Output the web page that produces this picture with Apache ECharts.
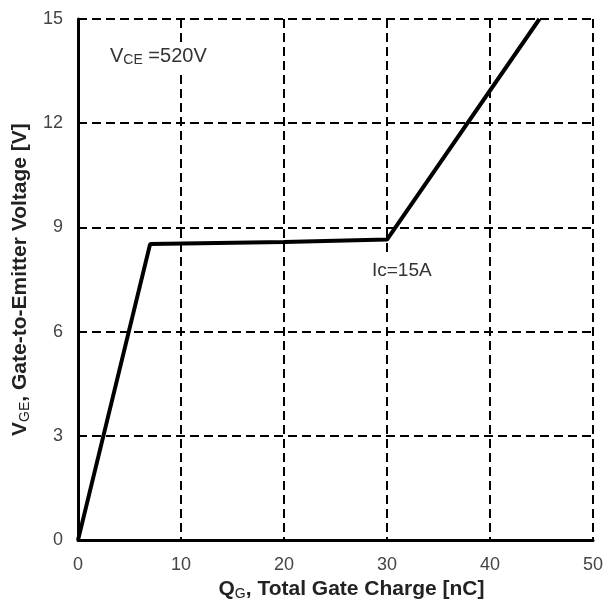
<!DOCTYPE html>
<html><head><meta charset="utf-8">
<script src="https://cdn.jsdelivr.net/npm/echarts@6/dist/echarts.min.js"></script>
<style>html,body{margin:0;padding:0;background:#fff}#c{width:614px;height:606px}</style>
</head><body><div id="c"></div>
<script>
const xTicks = [0, 10, 20, 30, 40, 50];
const yTicks = [0, 3, 6, 9, 12, 15];
const chargeNC = [0, 7.0, 20, 30.0, 44.8];
const voltageV = [0, 8.52, 8.58, 8.65, 15];

const chart = echarts.init(document.getElementById('c'), null, {renderer: 'canvas'});
const F = 'Liberation Sans, Arial, sans-serif';
const dash = {type: [9, 5], color: '#000', width: 2};
chart.setOption({
  animation: false,
  backgroundColor: '#fff',
  grid: {left: 78, right: 21, top: 19, bottom: 64, containLabel: false},
  xAxis: {
    type: 'value', min: 0, max: 50, interval: 10,
    axisLine: {show: true, onZero: false, lineStyle: {color: '#000', width: 3}},
    axisTick: {show: false},
    axisLabel: {color: '#444', fontSize: 18, fontFamily: F, margin: 16},
    splitLine: {show: true, lineStyle: dash},
    name: '{b|Q}{s|G}{b|, Total Gate Charge [nC]}',
    nameLocation: 'middle', nameGap: 37,
    nameTextStyle: {padding: [0, 0, 0, 32], rich: {
      b: {fontSize: 21, fontWeight: 'bold', fontFamily: F, color: '#222'},
      s: {fontSize: 14, fontFamily: F, color: '#222', padding: [9, 0, 0, 0]}
    }}
  },
  yAxis: {
    type: 'value', min: 0, max: 15, interval: 3,
    axisLine: {show: true, onZero: false, lineStyle: {color: '#000', width: 3}},
    axisTick: {show: false},
    axisLabel: {color: '#444', fontSize: 18, fontFamily: F, margin: 15},
    splitLine: {show: true, lineStyle: dash},
    name: '{b|V}{s|GE}{b|, Gate-to-Emitter Voltage [V]}',
    nameLocation: 'middle', nameGap: 44,
    nameTextStyle: {rich: {
      b: {fontSize: 21, fontWeight: 'bold', fontFamily: F, color: '#222'},
      s: {fontSize: 14, fontFamily: F, color: '#222', padding: [9, 0, 0, 0]}
    }}
  },
  series: [{
    type: 'line',
    data: chargeNC.map((x, i) => [x, voltageV[i]]),
    symbol: 'none',
    lineStyle: {color: '#000', width: 4},
    z: 5
  }],
  graphic: [
    {type: 'text', left: 107, top: 42, z: 10, style: {
      text: '{n|V}{s|CE}{n| =520V}',
      backgroundColor: '#fff', padding: [4, 3, 4, 3],
      rich: {n: {fontSize: 20, fontFamily: F, fill: '#333'}, s: {fontSize: 14, fontFamily: F, fill: '#333', padding: [7, 0, 0, 0]}}
    }},
    {type: 'text', left: 369, top: 257, z: 10, style: {
      text: 'Ic=15A', fontSize: 19, fontFamily: F, fill: '#333',
      backgroundColor: '#fff', padding: [4, 3, 4, 3]
    }}
  ]
});
</script></body></html>
